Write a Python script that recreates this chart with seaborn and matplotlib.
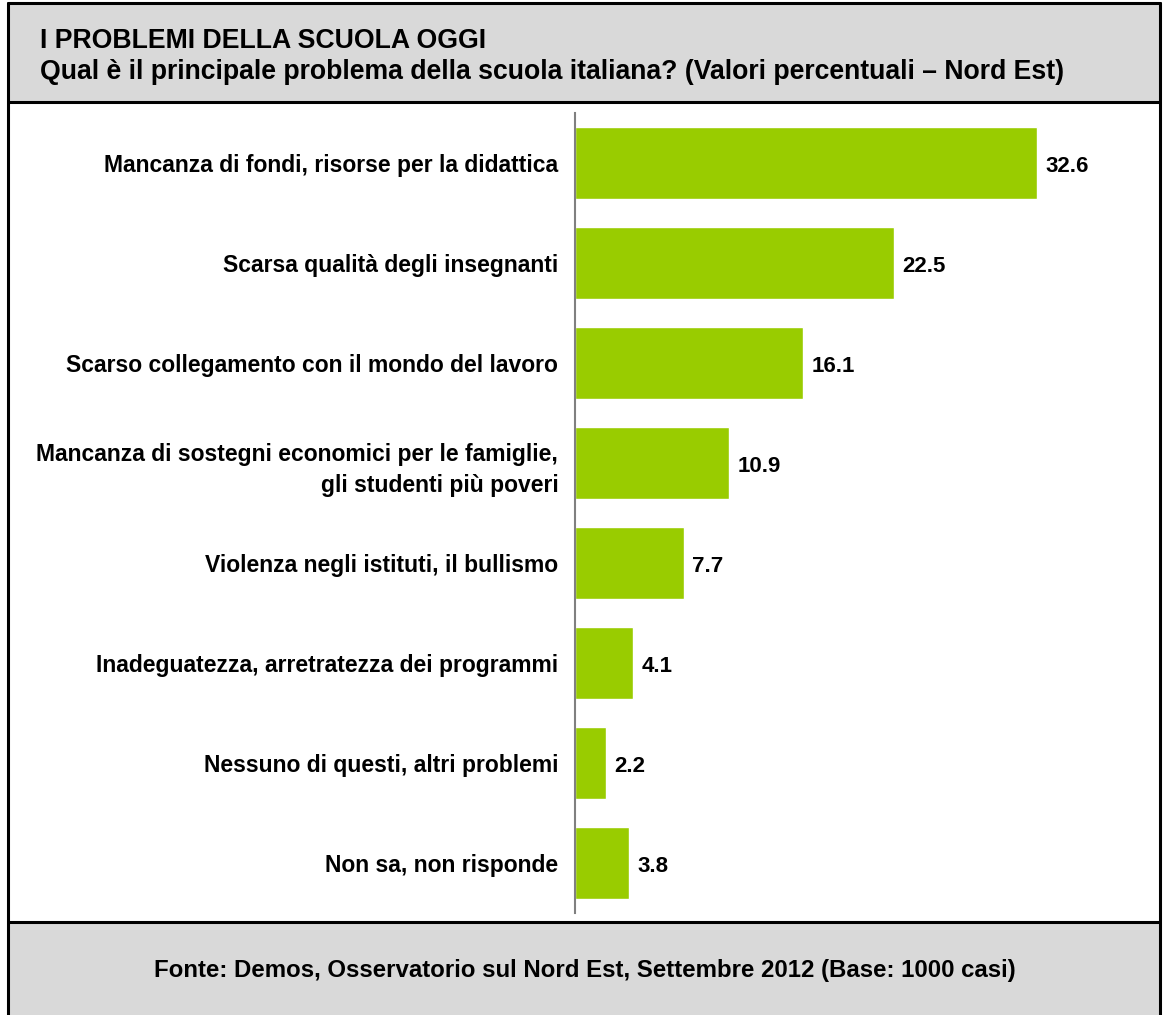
import matplotlib
matplotlib.use("Agg")
import matplotlib.pyplot as plt
import seaborn as sns
import pandas as pd
from matplotlib.patches import Rectangle
from matplotlib.lines import Line2D

# --- Data ---
categories = [
    "Mancanza di fondi, risorse per la didattica",
    "Scarsa qualità degli insegnanti",
    "Scarso collegamento con il mondo del lavoro",
    "Mancanza di sostegni economici per le famiglie,\ngli studenti più poveri",
    "Violenza negli istituti, il bullismo",
    "Inadeguatezza, arretratezza dei programmi",
    "Nessuno di questi, altri problemi",
    "Non sa, non risponde",
]
values = [32.6, 22.5, 16.1, 10.9, 7.7, 4.1, 2.2, 3.8]

title_line1 = "I PROBLEMI DELLA SCUOLA OGGI"
title_line2 = "Qual è il principale problema della scuola italiana? (Valori percentuali – Nord Est)"
source_text = "Fonte: Demos, Osservatorio sul Nord Est, Settembre 2012 (Base: 1000 casi)"

df = pd.DataFrame({"category": categories, "value": values})

sns.set_theme(style="white")
plt.rcParams["font.family"] = ["Liberation Sans", "DejaVu Sans"]
plt.rcParams["text.color"] = "black"
plt.rcParams["ytick.color"] = "black"

W, H = 1164, 1015
fig = plt.figure(figsize=(W / 100, H / 100), dpi=100)

# --- Frame: header and footer bands ---
gray = "#D9D9D9"
fig.patches.append(Rectangle((8 / W, 1 - 102 / H), 1152 / W, 99 / H,
                             transform=fig.transFigure, facecolor=gray,
                             edgecolor="none", zorder=0))
fig.patches.append(Rectangle((8 / W, 0), 1152 / W, (H - 922) / H,
                             transform=fig.transFigure, facecolor=gray,
                             edgecolor="none", zorder=0))
lw = 2.2
for y in [3, 102, 922]:
    fig.add_artist(Line2D([8 / W, 1160 / W], [1 - y / H, 1 - y / H],
                          transform=fig.transFigure, color="black", lw=lw))
for x in [8, 1160]:
    fig.add_artist(Line2D([x / W, x / W], [0, 1 - 3 / H],
                          transform=fig.transFigure, color="black", lw=lw))

fig.text(40 / W, 1 - 41 / H, title_line1, fontsize=19.2, fontweight="bold",
         va="center", ha="left")
fig.text(40 / W, 1 - 72 / H, title_line2, fontsize=19.2, fontweight="bold",
         va="center", ha="left")
fig.text(585 / W, 1 - 971 / H, source_text, fontsize=17.3, fontweight="bold",
         va="center", ha="center")

# --- Bar chart ---
ax = fig.add_axes([575 / W, (H - 913) / H, 510 / W, 800 / H])
sns.barplot(data=df, x="value", y="category", color="#99CC00",
            saturation=1, width=0.72, ax=ax)
ax.set_xlim(0, 36)
ax.set_ylim(7.5, -0.5)
ax.set_xlabel("")
ax.set_ylabel("")
ax.set_xticks([])
for s in ["top", "right", "bottom"]:
    ax.spines[s].set_visible(False)
ax.spines["left"].set_color("#808080")
ax.spines["left"].set_linewidth(1.5)
ax.tick_params(axis="y", length=0, pad=12)
ax.set_yticks(range(len(categories)))
ax.set_yticklabels(categories, fontsize=16.5, fontweight="bold", ha="right",
                   linespacing=1.45)
ax.set_facecolor("none")

# value labels next to each bar
for i, v in enumerate(values):
    ax.annotate(f"{v:.1f}", (v, i), xytext=(6, -2.5), textcoords="offset points",
                va="center", ha="left", fontsize=16, fontweight="bold")

plt.savefig("out.png", dpi=100)
